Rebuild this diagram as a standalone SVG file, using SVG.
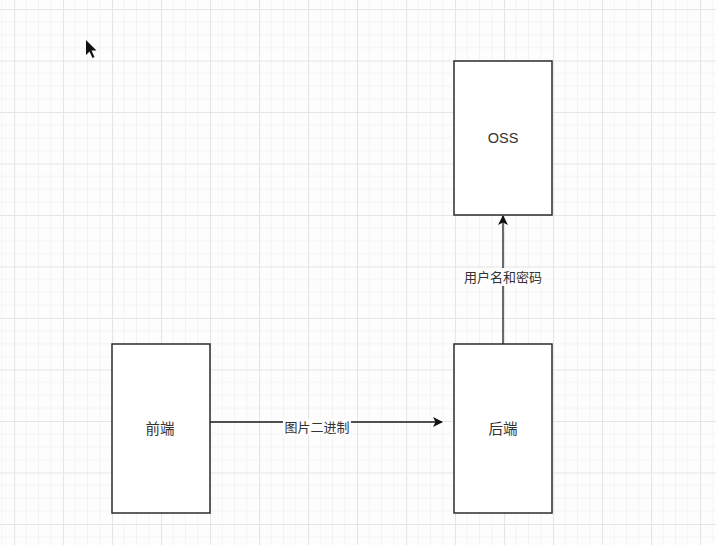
<svg xmlns="http://www.w3.org/2000/svg" width="716" height="545" viewBox="0 0 716 545">
<style>
.box{fill:#ffffff;stroke:#2b2b2b;stroke-width:1.5}
.lbl{font-family:"Liberation Sans","Noto Sans CJK SC",sans-serif;font-size:14.5px;fill:#333;text-anchor:middle;dominant-baseline:central}
.edge{stroke:#1a1a1a;stroke-width:1.3;fill:none}
.elbl{font-family:"Liberation Sans","Noto Sans CJK SC",sans-serif;font-size:13px;fill:#333;text-anchor:middle;dominant-baseline:central}
</style>
<defs>
<pattern id="grid" x="14" y="9" width="49" height="51.5" patternUnits="userSpaceOnUse">
<path d="M12.25 0V51.5M24.5 0V51.5M36.75 0V51.5M0 12.875H49M0 25.75H49M0 38.625H49" stroke="#f3f3f3" stroke-width="1" fill="none"/>
<path d="M0.5 0V51.5M0 0.5H49" stroke="#e5e5e5" stroke-width="1.2" fill="none"/>
</pattern>
<marker id="arr" markerWidth="10" markerHeight="10" refX="9" refY="5" orient="auto" markerUnits="userSpaceOnUse">
<path d="M0 0L10 5L0 10L2.5 5Z" fill="#111"/>
</marker>
</defs>
<rect width="716" height="545" fill="#fdfdfd"/>
<rect width="716" height="545" fill="url(#grid)"/>
<path d="M86 40L86 55L89.5 51.5L92.5 58L94.5 57L91.5 50.5L96.5 50.5Z" fill="#111"/>
<g id="connectors">
<line class="edge" x1="210" y1="422" x2="442" y2="422" marker-end="url(#arr)"/>
<rect x="283" y="419" width="68" height="16" fill="#fdfdfd"/>
<text class="elbl" x="317" y="427">图片二进制</text>
<line class="edge" x1="503" y1="344" x2="503" y2="216" marker-end="url(#arr)"/>
<rect x="462" y="268" width="82" height="18" fill="#fdfdfd"/>
<text class="elbl" x="503" y="277">用户名和密码</text>
</g>
<g id="node-frontend">
<rect class="box" x="112" y="344" width="98" height="169"/>
<text class="lbl" x="160" y="429">前端</text>
</g>
<g id="node-backend">
<rect class="box" x="454" y="344" width="98" height="169"/>
<text class="lbl" x="503" y="429">后端</text>
</g>
<g id="node-oss">
<rect class="box" x="454" y="61" width="98" height="154"/>
<text class="lbl" x="503" y="138">OSS</text>
</g>
</svg>
